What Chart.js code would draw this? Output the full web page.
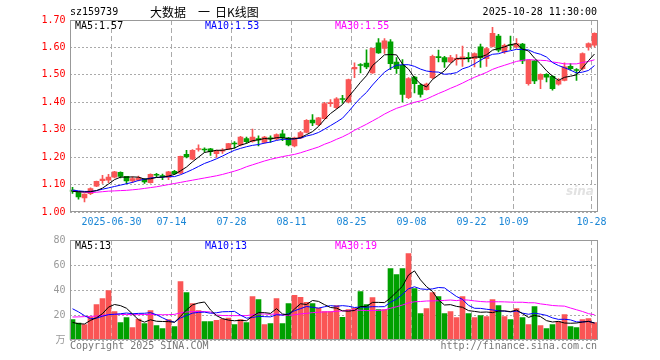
<!DOCTYPE html>
<html>
<head>
<meta charset="utf-8">
<script src="https://cdn.jsdelivr.net/npm/chart.js@4.4.1/dist/chart.umd.min.js"></script>
<style>
body { margin: 0; background: #fff; }
#wrap { position: relative; width: 660px; height: 360px; overflow: hidden; font-family: "DejaVu Sans Mono", monospace; font-size: 10px; }
#wrap canvas { position: absolute; left: 0; }
.t { position: absolute; white-space: pre; line-height: 12px; }
.cn { font-family: "Noto Sans CJK SC", sans-serif; font-size: 12px; line-height: 14px; top: 5px; color: #000; }
</style>
</head>
<body>
<div id="wrap">
    <canvas id="kline" width="660" height="232" style="top:0"></canvas>
    <canvas id="volume" width="660" height="132" style="top:228px"></canvas>

    <div class="t" style="left:70px;top:6px;color:#000">sz159739</div>
    <div class="t cn" style="left:150px">大数据</div>
    <div class="t cn" style="left:198px">一</div>
    <div class="t cn" style="left:215px">日K线图</div>
    <div class="t" style="right:63px;top:6px;color:#000">2025-10-28 11:30:00</div>

    <div class="t" style="left:75px;top:20px;color:#000">MA5:1.57</div>
    <div class="t" style="left:205px;top:20px;color:#0000ff">MA10:1.53</div>
    <div class="t" style="left:335px;top:20px;color:#ff00ff">MA30:1.55</div>

    <div class="t" style="left:75px;top:240px;color:#000">MA5:13</div>
    <div class="t" style="left:205px;top:240px;color:#0000ff">MA10:13</div>
    <div class="t" style="left:335px;top:240px;color:#ff00ff">MA30:19</div>

    <div class="t" style="left:566px;top:184px;color:#e2e2e2;font:italic bold 12px 'DejaVu Sans'">sina</div>

    <div class="t" style="left:70px;top:340px;color:#777">Copyright 2025 SINA.COM</div>
    <div class="t" style="right:63px;top:340px;color:#777">http://finance.sina.com.cn</div>
</div>

<script>
// trading days shown (06-19 .. 10-28)
const dates = [
    "06-19", "06-20", "06-23", "06-24", "06-25", "06-26", "06-27", "06-30",
    "07-01", "07-02", "07-03", "07-04", "07-07", "07-08", "07-09", "07-10", "07-11", "07-14",
    "07-15", "07-16", "07-17", "07-18", "07-21", "07-22", "07-23", "07-24", "07-25", "07-28",
    "07-29", "07-30", "07-31",
    "08-01", "08-04", "08-05", "08-06", "08-07", "08-08", "08-11", "08-12", "08-13", "08-14",
    "08-15", "08-18", "08-19", "08-20", "08-21", "08-22", "08-25", "08-26", "08-27", "08-28", "08-29",
    "09-01", "09-02", "09-03", "09-04", "09-05", "09-08", "09-09", "09-10", "09-11", "09-12",
    "09-15", "09-16", "09-17", "09-18", "09-19", "09-22", "09-23", "09-24", "09-25", "09-26",
    "09-29", "09-30",
    "10-09", "10-10", "10-13", "10-14", "10-15", "10-16", "10-17", "10-20", "10-21", "10-22",
    "10-23", "10-24", "10-27", "10-28",
];
const tickDates = ["06-30", "07-14", "07-28", "08-11", "08-25", "09-08", "09-22", "10-09", "10-28"];
const tickLabels = ["2025-06-30", "07-14", "07-28", "08-11", "08-25", "09-08", "09-22", "10-09", "10-28"];

const opens = [
    1.080, 1.073, 1.051, 1.067, 1.094, 1.114, 1.116, 1.127, 1.145, 1.130,
    1.113, 1.116, 1.120, 1.107, 1.137, 1.133, 1.126, 1.148, 1.142, 1.210,
    1.193, 1.228, 1.229, 1.230, 1.213, 1.222, 1.229, 1.250, 1.245, 1.268,
    1.257, 1.268, 1.254, 1.270, 1.266, 1.285, 1.270, 1.241, 1.270, 1.290,
    1.335, 1.318, 1.340, 1.395, 1.380, 1.413, 1.401, 1.522, 1.537, 1.543,
    1.507, 1.617, 1.596, 1.620, 1.547, 1.535, 1.417, 1.492, 1.462, 1.446,
    1.490, 1.567, 1.563, 1.547, 1.555, 1.556, 1.563, 1.559, 1.602, 1.559,
    1.604, 1.641, 1.584, 1.610, 1.602, 1.612, 1.468, 1.551, 1.483, 1.502,
    1.495, 1.466, 1.480, 1.531, 1.519, 1.523, 1.602, 1.608,
];
const highs = [
    1.090, 1.075, 1.066, 1.088, 1.113, 1.134, 1.137, 1.148, 1.146, 1.130,
    1.128, 1.131, 1.122, 1.139, 1.141, 1.138, 1.148, 1.152, 1.204, 1.225,
    1.228, 1.245, 1.234, 1.232, 1.226, 1.231, 1.250, 1.257, 1.276, 1.273,
    1.302, 1.278, 1.276, 1.278, 1.285, 1.298, 1.272, 1.273, 1.294, 1.337,
    1.355, 1.345, 1.400, 1.410, 1.417, 1.425, 1.485, 1.544, 1.541, 1.591,
    1.598, 1.632, 1.632, 1.629, 1.563, 1.556, 1.490, 1.495, 1.467, 1.470,
    1.572, 1.590, 1.568, 1.571, 1.574, 1.605, 1.581, 1.580, 1.612, 1.600,
    1.673, 1.648, 1.612, 1.641, 1.632, 1.615, 1.555, 1.553, 1.504, 1.505,
    1.497, 1.486, 1.544, 1.541, 1.523, 1.580, 1.617, 1.653,
];
const lows = [
    1.068, 1.047, 1.037, 1.063, 1.092, 1.104, 1.107, 1.124, 1.124, 1.103,
    1.107, 1.113, 1.104, 1.105, 1.128, 1.118, 1.118, 1.136, 1.140, 1.197,
    1.191, 1.222, 1.218, 1.206, 1.199, 1.214, 1.227, 1.233, 1.241, 1.251,
    1.255, 1.241, 1.251, 1.254, 1.263, 1.260, 1.241, 1.237, 1.267, 1.288,
    1.315, 1.315, 1.338, 1.385, 1.377, 1.397, 1.398, 1.490, 1.507, 1.523,
    1.505, 1.578, 1.578, 1.519, 1.505, 1.401, 1.413, 1.434, 1.419, 1.444,
    1.486, 1.547, 1.527, 1.544, 1.535, 1.531, 1.547, 1.529, 1.527, 1.531,
    1.602, 1.584, 1.578, 1.592, 1.596, 1.541, 1.462, 1.468, 1.450, 1.474,
    1.444, 1.462, 1.478, 1.517, 1.480, 1.517, 1.590, 1.602,
];
const closes = [
    1.075, 1.055, 1.065, 1.085, 1.112, 1.120, 1.127, 1.146, 1.130, 1.113,
    1.122, 1.125, 1.110, 1.137, 1.134, 1.128, 1.146, 1.140, 1.203, 1.201,
    1.225, 1.231, 1.226, 1.220, 1.224, 1.226, 1.249, 1.248, 1.273, 1.256,
    1.273, 1.263, 1.273, 1.266, 1.282, 1.270, 1.245, 1.270, 1.290, 1.334,
    1.325, 1.343, 1.395, 1.398, 1.413, 1.410, 1.483, 1.527, 1.534, 1.529,
    1.597, 1.580, 1.624, 1.541, 1.523, 1.429, 1.486, 1.468, 1.429, 1.466,
    1.568, 1.563, 1.547, 1.563, 1.560, 1.566, 1.560, 1.578, 1.563, 1.596,
    1.651, 1.590, 1.608, 1.607, 1.614, 1.551, 1.553, 1.478, 1.502, 1.492,
    1.450, 1.480, 1.529, 1.523, 1.516, 1.578, 1.614, 1.651,
];

const ma5 = [
    1.075, 1.074, 1.073, 1.074, 1.078, 1.087, 1.102, 1.118, 1.127, 1.127,
    1.128, 1.127, 1.120, 1.121, 1.126, 1.127, 1.131, 1.137, 1.150, 1.164,
    1.183, 1.200, 1.217, 1.221, 1.225, 1.225, 1.229, 1.233, 1.244, 1.250,
    1.260, 1.263, 1.268, 1.266, 1.271, 1.271, 1.267, 1.267, 1.271, 1.282,
    1.293, 1.312, 1.337, 1.359, 1.375, 1.392, 1.420, 1.446, 1.473, 1.497,
    1.534, 1.553, 1.573, 1.574, 1.573, 1.539, 1.521, 1.489, 1.467, 1.456,
    1.483, 1.499, 1.515, 1.541, 1.560, 1.560, 1.559, 1.565, 1.565, 1.573,
    1.590, 1.596, 1.602, 1.610, 1.614, 1.594, 1.587, 1.561, 1.540, 1.515,
    1.495, 1.480, 1.491, 1.495, 1.500, 1.525, 1.552, 1.576,
];
const ma10 = [
    1.080, 1.077, 1.075, 1.075, 1.078, 1.083, 1.088, 1.093, 1.098, 1.103,
    1.108, 1.115, 1.119, 1.124, 1.126, 1.127, 1.129, 1.129, 1.136, 1.145,
    1.155, 1.166, 1.177, 1.185, 1.194, 1.204, 1.215, 1.225, 1.232, 1.238,
    1.243, 1.246, 1.251, 1.255, 1.261, 1.265, 1.265, 1.267, 1.269, 1.277,
    1.282, 1.290, 1.302, 1.315, 1.328, 1.342, 1.366, 1.392, 1.416, 1.436,
    1.463, 1.487, 1.510, 1.524, 1.535, 1.537, 1.537, 1.531, 1.521, 1.514,
    1.511, 1.510, 1.502, 1.504, 1.508, 1.522, 1.529, 1.540, 1.553, 1.566,
    1.575, 1.577, 1.584, 1.588, 1.593, 1.592, 1.591, 1.581, 1.575, 1.565,
    1.545, 1.534, 1.526, 1.517, 1.507, 1.510, 1.516, 1.534,
];
const ma30 = [
    1.078, 1.074, 1.072, 1.071, 1.072, 1.074, 1.076, 1.077, 1.078, 1.079,
    1.081, 1.083, 1.086, 1.089, 1.092, 1.096, 1.100, 1.104, 1.108, 1.112,
    1.116, 1.120, 1.124, 1.128, 1.132, 1.137, 1.143, 1.149, 1.156, 1.165,
    1.172, 1.179, 1.186, 1.192, 1.197, 1.202, 1.206, 1.210, 1.216, 1.223,
    1.230, 1.237, 1.247, 1.255, 1.265, 1.274, 1.285, 1.298, 1.309, 1.320,
    1.332, 1.344, 1.357, 1.368, 1.378, 1.385, 1.393, 1.400, 1.405, 1.412,
    1.422, 1.432, 1.441, 1.451, 1.460, 1.470, 1.481, 1.491, 1.500, 1.509,
    1.520, 1.528, 1.535, 1.542, 1.549, 1.553, 1.556, 1.554, 1.553, 1.552,
    1.547, 1.544, 1.540, 1.540, 1.540, 1.545, 1.549, 1.555,
];

// volume, in 10k lots
const volumes = [
    16.3, 13.6, 12.3, 18.4, 28.3, 33.1, 39.5, 22.7, 13.9, 17.9,
    9.9, 16.8, 13.1, 23.5, 11.5, 9.1, 16.3, 10.7, 46.7, 37.9,
    29.1, 23.5, 14.7, 14.7, 15.7, 16.8, 17.6, 12.3, 16.3, 13.9,
    34.7, 32.3, 12.3, 13.1, 33.1, 13.1, 29.1, 35.7, 34.1, 30.1,
    29.1, 25.6, 22.7, 22.7, 27.5, 18.1, 24.3, 25.3, 38.7, 28.3,
    33.9, 24.3, 24.3, 57.1, 52.3, 57.1, 69.1, 41.1, 21.1, 25.1,
    37.9, 34.7, 21.1, 22.7, 17.9, 34.7, 21.1, 17.9, 19.5, 18.7,
    32.3, 27.5, 18.7, 16.3, 25.1, 17.9, 12.3, 26.7, 11.5, 9.1,
    12.3, 14.7, 20.3, 10.7, 9.9, 16.3, 17.1, 13.9,
];
const volMa5 = [
    14.1, 13.0, 12.8, 15.7, 17.8, 21.1, 26.3, 28.4, 27.5, 25.4,
    20.8, 16.2, 14.3, 16.2, 15.0, 14.8, 14.7, 14.2, 18.9, 24.1,
    28.1, 29.6, 30.4, 24.0, 19.5, 17.1, 15.9, 15.4, 15.7, 15.4,
    19.0, 21.9, 21.9, 21.3, 25.1, 20.8, 20.1, 24.8, 29.0, 28.4,
    31.6, 30.9, 28.3, 26.0, 25.5, 23.3, 23.1, 23.6, 26.8, 26.9,
    30.1, 30.1, 29.9, 33.6, 38.4, 43.0, 52.0, 55.3, 48.1, 42.7,
    38.9, 32.0, 28.0, 28.3, 26.9, 26.2, 23.5, 22.9, 22.2, 22.4,
    21.9, 23.2, 23.3, 22.7, 24.0, 21.1, 18.1, 19.7, 18.7, 15.5,
    14.4, 14.9, 13.6, 13.4, 13.6, 14.4, 14.9, 13.6,
];
const volMa10 = [
    25.0, 22.5, 19.5, 17.0, 17.5, 19.0, 20.3, 20.6, 21.0, 21.6,
    21.0, 21.3, 21.4, 21.9, 20.2, 17.8, 15.5, 14.3, 17.6, 19.6,
    21.5, 22.1, 22.3, 21.4, 21.8, 22.6, 22.7, 22.9, 19.9, 17.5,
    18.0, 18.9, 18.7, 18.5, 20.2, 19.9, 21.0, 23.4, 25.1, 26.8,
    26.2, 25.5, 26.6, 27.5, 27.0, 27.5, 27.0, 26.0, 26.4, 26.2,
    26.7, 26.6, 26.7, 30.2, 32.7, 36.6, 41.0, 42.6, 40.9, 40.5,
    40.9, 42.0, 41.7, 38.2, 34.8, 32.5, 27.7, 25.4, 25.3, 24.6,
    24.1, 23.3, 23.1, 22.5, 23.2, 21.5, 20.6, 21.5, 20.7, 19.7,
    17.7, 16.5, 16.6, 16.1, 14.5, 14.4, 14.9, 13.6,
];
const volMa30 = [
    18.4, 18.5, 18.7, 18.9, 19.2, 19.6, 20.3, 20.5, 20.5, 20.4,
    20.3, 20.3, 20.4, 20.4, 20.3, 20.2, 20.3, 20.5, 21.8, 22.4,
    22.7, 22.8, 22.7, 22.4, 20.0, 19.6, 19.5, 19.5, 19.5, 19.5,
    20.2, 20.8, 20.8, 20.6, 20.8, 20.1, 19.7, 20.2, 20.9, 21.3,
    21.9, 22.2, 22.5, 22.5, 23.0, 23.3, 23.6, 24.1, 23.8, 23.5,
    23.6, 23.7, 24.0, 25.4, 26.6, 28.0, 29.7, 30.6, 30.8, 31.2,
    31.3, 31.4, 31.7, 32.0, 31.5, 32.2, 31.9, 31.3, 30.8, 30.5,
    30.6, 30.6, 30.5, 30.3, 30.2, 30.2, 29.8, 29.8, 28.9, 28.3,
    27.6, 27.3, 27.1, 25.6, 24.2, 22.8, 21.1, 20.2,
];

const RED = "#fa5555";
const GREEN = "#00a000";
const GRID = "#aaaaaa";
const monoFont = { family: "DejaVu Sans Mono, Noto Sans CJK SC", size: 10 };

const upDown = opens.map((o, i) => (closes[i] >= o ? RED : GREEN));

// gray box around the plot area
const framePlugin = {
    id: "frame",
    afterDraw(chart) {
        const { ctx, chartArea: a } = chart;
        const x1 = Math.round(a.left) + 0.5;
        const x2 = Math.floor(a.right) + 0.5;
        const y1 = Math.round(a.top) + 0.5;
        const y2 = Math.round(a.bottom) - 0.5;
        ctx.save();
        ctx.strokeStyle = "#999";
        ctx.lineWidth = 1;
        ctx.strokeRect(x1, y1, x2 - x1, y2 - y1);
        ctx.restore();
    },
};

function dateAxis(showLabels) {
    return {
        type: "category",
        offset: true,
        grid: {
            offset: true,
            drawTicks: false,
            color: (c) => (tickDates.includes(dates[c.index]) ? GRID : "rgba(0,0,0,0)"),
        },
        border: { display: false, dash: [5, 3] },
        ticks: {
            display: showLabels,
            autoSkip: false,
            maxRotation: 0,
            padding: 4,
            labelOffset: -3,
            color: "#1a86d6",
            font: monoFont,
            callback: (v, i) => {
                const k = tickDates.indexOf(dates[i]);
                return k >= 0 ? tickLabels[k] : "";
            },
        },
        afterFit: (s) => {
            s.height = showLabels ? 20 : 0;
        },
    };
}

function maLine(values, color) {
    return {
        type: "line",
        data: values,
        borderColor: color,
        borderWidth: 1,
        pointRadius: 0,
        tension: 0,
        order: 0,
    };
}

const common = {
    responsive: false,
    animation: false,
    devicePixelRatio: 1,
    events: [],
    plugins: { legend: { display: false }, tooltip: { enabled: false } },
};

new Chart(document.getElementById("kline").getContext("2d"), {
    type: "bar",
    data: {
        labels: dates,
        datasets: [
            {
                label: "wick",
                data: lows.map((l, i) => [l, highs[i]]),
                backgroundColor: upDown,
                barThickness: 1,
                grouped: false,
                order: 2,
            },
            {
                label: "body",
                data: opens.map((o, i) => [o, closes[i]]),
                backgroundColor: upDown,
                barThickness: 5,
                minBarLength: 1,
                grouped: false,
                order: 1,
            },
            maLine(ma5, "#000000"),
            maLine(ma10, "#0000ff"),
            maLine(ma30, "#ff00ff"),
        ],
    },
    options: {
        ...common,
        layout: { padding: { top: 20, left: 0, right: 62.5, bottom: 0 } },
        scales: {
            x: dateAxis(true),
            y: {
                min: 1.0,
                max: 1.7,
                ticks: {
                    stepSize: 0.1,
                    color: "#ff0000",
                    font: monoFont,
                    padding: 4,
                    callback: (v) => Number(v).toFixed(2),
                },
                grid: { color: GRID, drawTicks: false },
                border: { display: false, dash: [2, 2] },
                afterFit: (s) => {
                    s.width = 69.5;
                },
            },
        },
    },
    plugins: [framePlugin],
});

new Chart(document.getElementById("volume").getContext("2d"), {
    type: "bar",
    data: {
        labels: dates,
        datasets: [
            {
                label: "volume",
                data: volumes,
                backgroundColor: upDown,
                barThickness: 5,
                grouped: false,
                order: 1,
            },
            maLine(volMa5, "#000000"),
            maLine(volMa10, "#0000ff"),
            maLine(volMa30, "#ff00ff"),
        ],
    },
    options: {
        ...common,
        layout: { padding: { top: 12, left: 0, right: 62.5, bottom: 20 } },
        scales: {
            x: dateAxis(false),
            y: {
                min: 0,
                max: 80,
                ticks: {
                    stepSize: 20,
                    color: "#999999",
                    font: monoFont,
                    padding: 4,
                    callback: (v) => (v === 0 ? "万" : v),
                },
                grid: { color: GRID, drawTicks: false },
                border: { display: false, dash: [2, 2] },
                afterFit: (s) => {
                    s.width = 69.5;
                },
            },
        },
    },
    plugins: [framePlugin],
});
</script>
</body>
</html>
